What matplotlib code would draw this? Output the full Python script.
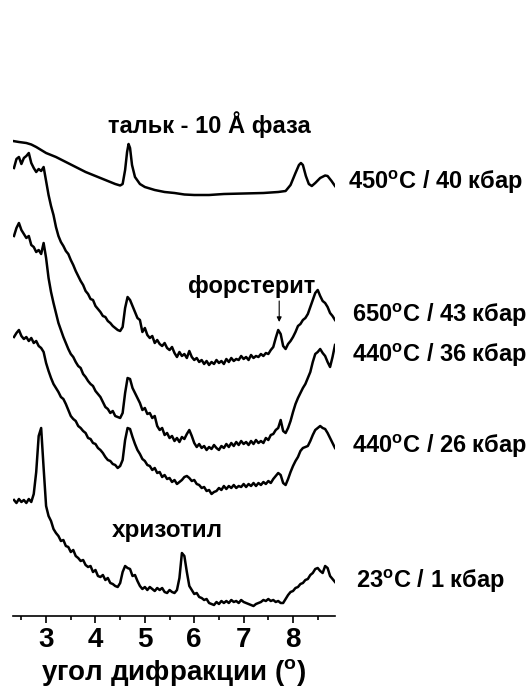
import numpy as np
import matplotlib
matplotlib.use("Agg")
import matplotlib.pyplot as plt
from matplotlib.ticker import MultipleLocator

plt.rcParams['font.family'] = ['Liberation Sans', 'DejaVu Sans']
plt.rcParams['font.weight'] = 'bold'
plt.rcParams['mathtext.fontset'] = 'custom'
plt.rcParams['mathtext.rm'] = 'Liberation Sans:bold'
plt.rcParams['mathtext.it'] = 'Liberation Sans:bold'
plt.rcParams['mathtext.bf'] = 'Liberation Sans:bold'

# ---- diffraction patterns (intensity, arb. units, stacked) ----
# regular scan grid, degrees 2theta
scan_angle = np.round(np.arange(2.35, 8.851, 0.05), 2)

# talc - 10 A phase, smooth pattern on its own grid
talc_angle = [2.33, 2.45, 2.6, 2.7, 2.8, 2.9, 3.0, 3.2, 3.4, 3.6, 3.8, 4.0, 4.2, 4.4,
              4.5, 4.55, 4.6, 4.64, 4.67, 4.70, 4.74, 4.8, 4.9, 5.0, 5.2, 5.4, 5.6,
              5.8, 6.0, 6.3, 6.6, 7.0, 7.4, 7.7, 7.85, 7.95, 8.05, 8.12, 8.16, 8.2,
              8.26, 8.32, 8.38, 8.45, 8.55, 8.65, 8.7, 8.78, 8.85]
talc_450_40 = [475, 474, 473, 471.5, 469, 466, 463, 459, 454, 449, 444, 440, 436, 432,
               430.5, 432, 446, 464, 472, 468, 451, 439, 432, 429, 426, 424, 423,
               421.5, 421, 421, 422, 422.5, 423, 424, 425, 431, 443, 451, 453, 451,
               440, 432, 430, 433, 438, 440.5, 440, 435, 430]

fo_650_43 = [448, 457, 459, 452, 458, 460, 463, 453, 448, 444,
             447, 445, 449, 435, 421, 410, 401, 389, 380, 374,
             370, 365, 362, 356, 351, 345, 340, 335, 331, 325,
             322, 317, 316, 310, 307, 304, 300, 299, 295, 293,
             290, 288, 286, 285, 289, 308, 319, 316, 310, 304,
             298, 296, 284, 288, 281, 278, 280, 273, 276, 272,
             270, 273, 268, 266, 269, 263, 259, 264, 260, 262,
             258, 265, 259, 256, 258, 254, 256, 252, 255, 251,
             254, 252, 256, 253, 255, 252, 257, 254, 258, 255,
             257, 256, 260, 257, 259, 256, 261, 258, 260, 259,
             262, 260, 263, 262, 266, 269, 278, 286, 282, 270,
             267, 272, 275, 279, 284, 290, 292, 296, 298, 302,
             309, 316, 323, 326, 320, 315, 313, 309, 303, 300,
             296]

s_440_36 = [380, 388, 393, 386, 382, 378, 380, 371, 369, 364,
            366, 362, 373, 358, 338, 324, 313, 303, 293, 286,
            279, 273, 267, 262, 259, 254, 250, 248, 242, 239,
            235, 232, 230, 225, 222, 219, 214, 209, 207, 203,
            205, 200, 199, 198, 203, 223, 238, 237, 228, 223,
            218, 213, 206, 208, 202, 203, 198, 200, 190, 186,
            188, 181, 183, 178, 180, 175, 178, 174, 179, 177,
            182, 186, 180, 173, 169, 172, 168, 170, 166, 169,
            167, 171, 168, 166, 170, 168, 172, 169, 173, 170,
            174, 171, 175, 172, 174, 171, 175, 172, 176, 173,
            175, 173, 178, 176, 181, 182, 186, 188, 196, 185,
            183, 188, 195, 204, 212, 218, 223, 228, 232, 238,
            244, 254, 262, 264, 267, 263, 260, 254, 249, 259,
            271]

s_440_26 = [279, 283, 286, 280, 277, 279, 275, 278, 273, 275,
            270, 268, 264, 253, 245, 238, 232, 228, 224, 219,
            217, 212, 206, 200, 197, 195, 190, 188, 185, 183,
            178, 177, 173, 172, 168, 166, 163, 159, 156, 155,
            152, 151, 148, 150, 156, 176, 188, 187, 179, 172,
            166, 162, 157, 155, 151, 150, 146, 148, 143, 144,
            139, 141, 137, 138, 134, 136, 132, 134, 136, 139,
            140, 138, 135, 136, 132, 131, 128, 129, 125, 126,
            122, 124, 125, 128, 126, 130, 127, 130, 128, 131,
            128, 130, 129, 132, 129, 132, 130, 133, 130, 133,
            131, 134, 132, 135, 133, 137, 140, 143, 141, 133,
            131, 137, 144, 150, 155, 159, 165, 168, 169, 170,
            175, 181, 186, 188, 190, 188, 187, 183, 178, 173,
            168]

ctl_23_1 = [116, 113, 117, 114, 116, 113, 117, 114, 122, 144,
            180, 188, 148, 110, 100, 95, 87, 83, 80, 75,
            76, 70, 69, 64, 66, 60, 58, 55, 56, 51,
            49, 50, 44, 46, 40, 39, 41, 36, 38, 33,
            32, 30, 29, 33, 44, 50, 48, 47, 40, 41,
            35, 30, 27, 29, 26, 29, 27, 25, 28, 26,
            28, 24, 23, 26, 24, 23, 26, 38, 63, 60,
            44, 30, 26, 22, 23, 19, 18, 16, 17, 13,
            12, 11, 14, 12, 15, 13, 15, 13, 16, 14,
            15, 13, 16, 14, 13, 12, 11, 10, 12, 13,
            14, 16, 15, 17, 15, 16, 14, 15, 13, 13,
            17, 21, 24, 25, 28, 29, 32, 33, 36, 37,
            41, 43, 47, 48, 45, 43, 50, 48, 40, 37,
            34]

sample_labels = ["450$^{\\mathrm{o}}$C / 40 кбар",
                 "650$^{\\mathrm{o}}$C / 43 кбар",
                 "440$^{\\mathrm{o}}$C / 36 кбар",
                 "440$^{\\mathrm{o}}$C / 26 кбар",
                 "23$^{\\mathrm{o}}$C / 1 кбар"]

# ---- figure ----
W, H = 528, 689
fig = plt.figure(figsize=(W / 100, H / 100), dpi=100, facecolor='white')
ax = fig.add_axes([13 / W, 73 / H, 322 / W, 516 / H])
ax.set_xlim(2.33, 8.85)
ax.set_ylim(0, 516)

lw = 1.8
ax.plot(talc_angle, talc_450_40, color='black', lw=lw, solid_joinstyle='round')
for series in (fo_650_43, s_440_36, s_440_26, ctl_23_1):
    ax.plot(scan_angle, series, color='black', lw=lw, solid_joinstyle='round')

for side in ('left', 'right', 'top'):
    ax.spines[side].set_visible(False)
ax.spines['bottom'].set_linewidth(1.2)
ax.set_yticks([])
ax.xaxis.set_major_locator(MultipleLocator(1))
ax.xaxis.set_minor_locator(MultipleLocator(0.5))
ax.tick_params(axis='x', which='major', length=5, width=1.2, direction='out',
               labelsize=20, pad=3)
ax.tick_params(axis='x', which='minor', length=3, width=1.2, direction='out')

ax.set_xlabel("угол дифракции ($^{\\mathrm{o}}$)", fontsize=20, fontweight='bold')
ax.xaxis.label.set_va('baseline')
ax.xaxis.set_label_coords(0.5, -64 / 516)

# phase annotations
ax.text(4.255, 483, "тальк - 10 Å фаза", fontsize=17, ha='left', va='baseline')
ax.text(5.87, 323, "форстерит", fontsize=17, ha='left', va='baseline')
ax.text(4.34, 79, "хризотил", fontsize=17.5, ha='left', va='baseline')
ax.annotate("", xy=(7.72, 294), xytext=(7.72, 315),
            arrowprops=dict(arrowstyle='-|>', color='black', lw=0.8,
                            mutation_scale=7, shrinkA=0, shrinkB=0))

# sample conditions at the right end of each pattern
label_x = [9.12, 9.19, 9.19, 9.19, 9.27]
label_y = [427, 294, 254, 163, 28]
for txt, lx, ly in zip(sample_labels, label_x, label_y):
    ax.text(lx, ly, txt, fontsize=17, ha='left', va='baseline', clip_on=False)

fig.savefig("out.png", dpi=100, facecolor='white')
